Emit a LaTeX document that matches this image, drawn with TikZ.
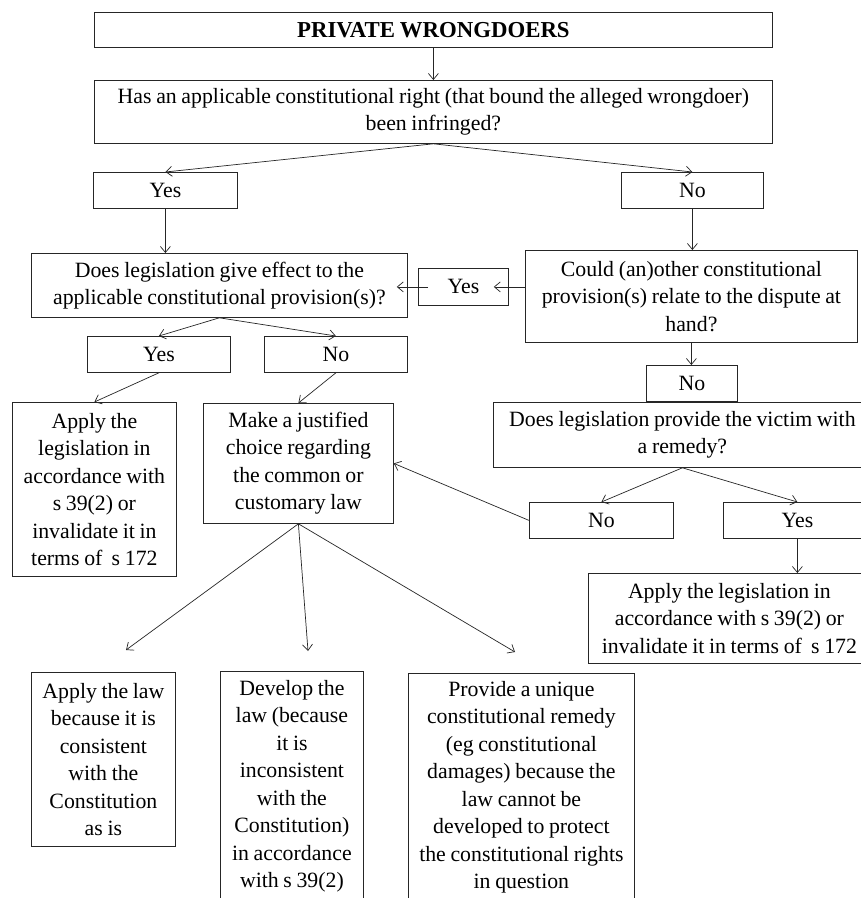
\documentclass[tikz,border=0pt]{standalone}
\usepackage{fontspec}
\setmainfont{Liberation Serif}[WordSpace=0.85]
\usetikzlibrary{arrows.meta,calc}
\begin{document}
\begin{tikzpicture}[x=1pt,y=-1pt,
  box/.style={draw=black!85, line width=0.8pt, inner sep=0pt, align=center,
    font=\fontsize{21.8}{27.5}\selectfont, anchor=north west},
  arr/.style={draw=black!85, line width=0.7pt, -{Straight Barb[length=6pt,width=10pt]}}]
\useasboundingbox (0,0) rectangle (861,898);
\clip (0,0) rectangle (861,898);
\fill[white] (0,0) rectangle (861,898);
% boxes
\node[box, minimum width=678pt, minimum height=35pt, font=\fontsize{22.8}{27.5}\selectfont\bfseries] (T) at (94,12) {PRIVATE WRONGDOERS};
\node[box, minimum width=678pt, minimum height=63pt] (Q1) at (94,80) {Has an applicable constitutional right (that bound the alleged wrongdoer)\\ been infringed?};
\node[box, minimum width=144pt, minimum height=36pt] (Yes1) at (93,172) {Yes};
\node[box, minimum width=142pt, minimum height=36pt] (No1) at (621,172) {No};
\node[box, minimum width=376pt, minimum height=64pt] (Q2) at (31,253) {Does legislation give effect to the\\ applicable constitutional provision(s)?};
\node[box, minimum width=332pt, minimum height=92pt] (Q3) at (525,250) {Could (an)other constitutional\\ provision(s) relate to the dispute at\\ hand?};
\node[box, minimum width=90pt, minimum height=37pt] (Yes2) at (418,268) {Yes};
\node[box, minimum width=143pt, minimum height=36pt] (Yes3) at (87,336) {Yes};
\node[box, minimum width=143pt, minimum height=36pt] (No3) at (264,336) {No};
\node[box, minimum width=164pt, minimum height=174pt] (A1) at (12,402) {Apply the\\ legislation in\\ accordance with\\ s 39(2) or\\ invalidate it in\\ terms of~ s 172};
\node[box, minimum width=190pt, minimum height=120pt] (M) at (203,403) {Make a justified\\ choice regarding\\ the common or\\ customary law};
\node[box, minimum width=91pt, minimum height=36pt] (No4) at (646,365) {No};
\node[box, minimum width=378pt, minimum height=65pt] (Q4) at (493,402) {Does legislation provide the victim with\\ a remedy?};
\node[box, minimum width=144pt, minimum height=36pt] (No5) at (529,502) {No};
\node[box, minimum width=148pt, minimum height=36pt] (Yes5) at (723,502) {Yes};
\node[box, minimum width=282pt, minimum height=90pt] (R) at (588,573) {Apply the legislation in\\ accordance with s 39(2) or\\ invalidate it in terms of~ s 172};
\node[box, minimum width=144pt, minimum height=174pt] (B1) at (31,672) {Apply the law\\ because it is\\ consistent\\ with the\\ Constitution\\ as is};
\node[box, minimum width=143pt, minimum height=230pt] (B2) at (220,671) {Develop the\\ law (because\\ it is\\ inconsistent\\ with the\\ Constitution)\\ in accordance\\ with s 39(2)};
\node[box, minimum width=226pt, minimum height=228pt] (B3) at (408,673) {Provide a unique\\ constitutional remedy\\ (eg constitutional\\ damages) because the\\ law cannot be\\ developed to protect\\ the constitutional rights\\ in question};
% free ends
\coordinate (c1) at (126,650);
\coordinate (c2) at (308,651);
\coordinate (c3) at (515,652);
% connectors
\draw[arr] (T.south) -- (Q1.north);
\draw[arr] (Q1.south) -- (Yes1.north);
\draw[arr] (Q1.south) -- (No1.north);
\draw[arr] (Yes1.south) -- (Yes1.south |- Q2.north);
\draw[arr] (No1.south) -- (No1.south |- Q3.north);
\draw[arr, shorten >=-15pt] (Q3.west |- Yes2.east) -- (Yes2.east);
\draw[arr, shorten <=-10pt, shorten >=-11pt] (Yes2.west) -- (Yes2.west -| Q2.east);
\draw[arr] (Q2.south) -- (Yes3.north);
\draw[arr] (Q2.south) -- (No3.north);
\draw[arr] (Yes3.south) -- (A1.north);
\draw[arr] (No3.south) -- (M.north);
\draw[arr] (Q3.south) -- (Q3.south |- No4.north);
\draw[arr] (Q4.south) -- (No5.north);
\draw[arr] (Q4.south) -- (Yes5.north);
\draw[arr] (No5.west) -- (M.east);
\draw[arr] (Yes5.south) -- (Yes5.south |- R.north);
\draw[arr] (M.south) -- (c1);
\draw[arr] (M.south) -- (c2);
\draw[arr] (M.south) -- (c3);
\end{tikzpicture}
\end{document}
